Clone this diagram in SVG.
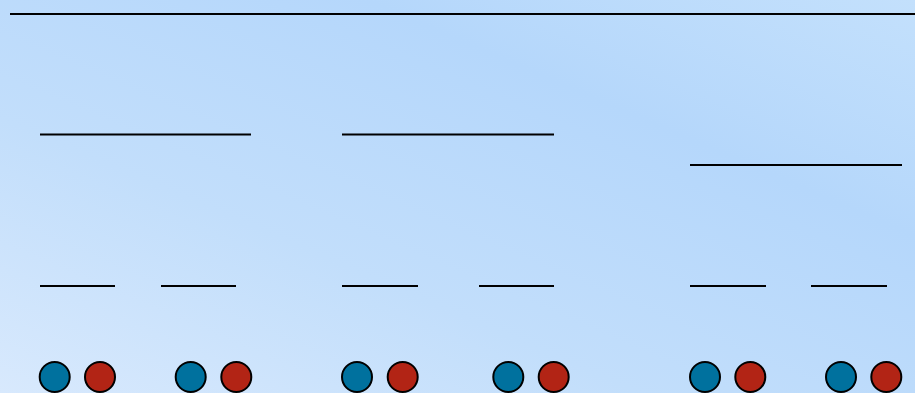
<svg xmlns="http://www.w3.org/2000/svg" width="915" height="393" viewBox="0 0 915 393">
<defs>
<linearGradient id="bg" x1="0" y1="1" x2="1" y2="0">
<stop offset="0" stop-color="#d8e9fd"/>
<stop offset="0.35" stop-color="#c2defb"/>
<stop offset="0.7" stop-color="#b5d7fb"/>
<stop offset="1" stop-color="#c3e0fc"/>
</linearGradient>
<style>
.ln{stroke:#000;stroke-width:2;fill:none}
.b{fill:#00719e;stroke:#000;stroke-width:2}
.r{fill:#b22415;stroke:#000;stroke-width:2}
</style>
</defs>
<rect width="915" height="393" fill="url(#bg)"/>
<g id="top"><line class="ln" x1="10" y1="14" x2="915" y2="14"/></g>
<g id="group1">
<line class="ln" x1="40" y1="134.5" x2="251" y2="134.5"/>
<line class="ln" x1="40" y1="286" x2="115" y2="286"/>
<line class="ln" x1="161" y1="286" x2="236" y2="286"/>
<circle class="b" cx="54.7" cy="377" r="15"/>
<circle class="r" cx="100" cy="377" r="15"/>
<circle class="b" cx="190.7" cy="377" r="15"/>
<circle class="r" cx="236.3" cy="377" r="15"/>
</g>
<g id="group2">
<line class="ln" x1="342" y1="134.5" x2="554" y2="134.5"/>
<line class="ln" x1="342" y1="286" x2="418" y2="286"/>
<line class="ln" x1="479" y1="286" x2="554" y2="286"/>
<circle class="b" cx="357" cy="377" r="15"/>
<circle class="r" cx="402.7" cy="377" r="15"/>
<circle class="b" cx="508.3" cy="377" r="15"/>
<circle class="r" cx="553.7" cy="377" r="15"/>
</g>
<g id="group3">
<line class="ln" x1="690" y1="165" x2="902" y2="165"/>
<line class="ln" x1="690" y1="286" x2="766" y2="286"/>
<line class="ln" x1="811" y1="286" x2="887" y2="286"/>
<circle class="b" cx="705" cy="377" r="15"/>
<circle class="r" cx="750.3" cy="377" r="15"/>
<circle class="b" cx="841" cy="377" r="15"/>
<circle class="r" cx="886.3" cy="377" r="15"/>
</g>
</svg>
